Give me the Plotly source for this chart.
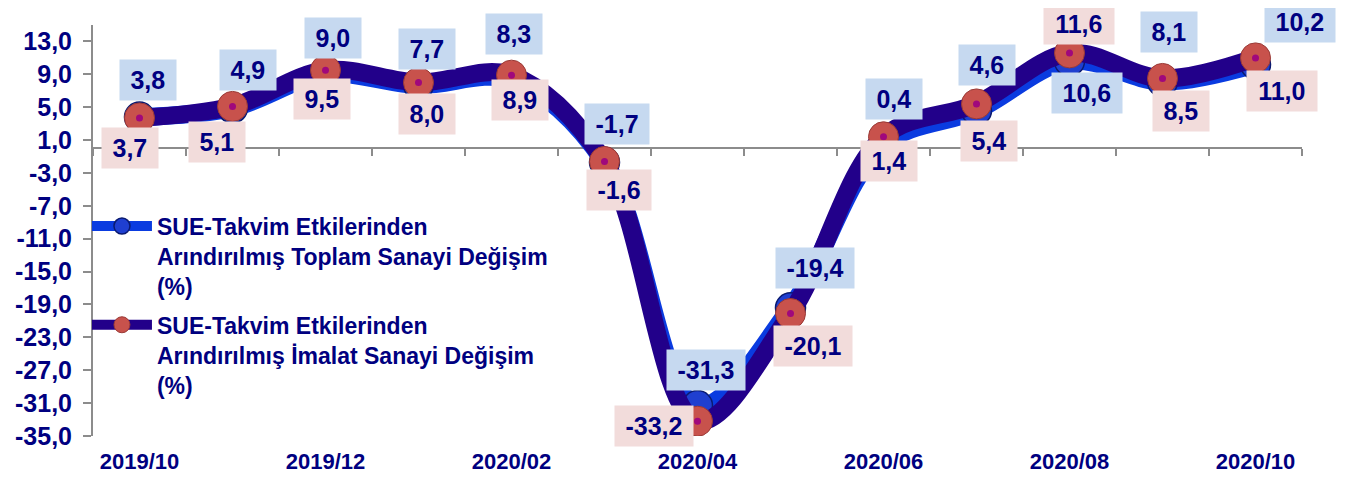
import plotly.graph_objects as go

MONTHS = ["2019/10", "2019/11", "2019/12", "2020/01", "2020/02", "2020/03", "2020/04",
          "2020/05", "2020/06", "2020/07", "2020/08", "2020/09", "2020/10"]
TOPLAM = [3.8, 4.9, 9.0, 7.7, 8.3, -1.7, -31.3, -19.4, 0.4, 4.6, 10.6, 8.1, 10.2]
IMALAT = [3.7, 5.1, 9.5, 8.0, 8.9, -1.6, -33.2, -20.1, 1.4, 5.4, 11.6, 8.5, 11.0]
YTICKS = [-35, -31, -27, -23, -19, -15, -11, -7, -3, 1, 5, 9, 13]

NAME_T = "SUE-Takvim Etkilerinden<br>Arındırılmış Toplam Sanayi Değişim<br>(%)"
NAME_I = "SUE-Takvim Etkilerinden<br>Arındırılmış İmalat Sanayi Değişim<br>(%)"

# label offsets in pixels (dx, dy up) - layout only
OFF_T = [(8, 37), (15, 38), (7, 36), (8, 36), (2, 46), (12, 38), (8, 36),
         (24, 40), (10, 46), (10, 45), (17, -32), (6, 50), (44, 42)]
OFF_I = [(-10, -30), (-16, -36), (-4, -29), (8, -31), (8, -25), (14, -29), (-44, -5),
         (22, -32), (5, -24), (12, -37), (9, 29), (18, -33), (26, -33)]

NAVY = "#000080"
FONT = "Liberation Sans"


def fmt(v):
    return f"{v:.1f}".replace(".", ",")


def box_w(s):
    w = {",": 0.278, "-": 0.333}
    return sum(w.get(c, 0.556) for c in s) * 25 + 19


fig = go.Figure()

fig.add_trace(go.Scatter(x=[], y=[], xaxis="x2", showlegend=False, hoverinfo="skip"))

fig.add_trace(go.Scatter(
    x=MONTHS, y=TOPLAM, name=NAME_T, mode="lines+markers",
    line=dict(color="#0a3be0", width=18, shape="spline", smoothing=1),
    marker=dict(size=30, color="#1f3fd0", line=dict(width=1.5, color="#0a1a70")),
    legendgroup="t",
))

fig.add_trace(go.Scatter(
    x=MONTHS, y=IMALAT, name=NAME_I, mode="lines+markers",
    line=dict(color="#22008a", width=18, shape="spline", smoothing=1),
    marker=dict(size=30, color="#c8524c", line=dict(width=1, color="#9a3a36")),
    legendgroup="i",
))
fig.add_trace(go.Scatter(
    x=MONTHS, y=IMALAT, mode="markers", showlegend=False, hoverinfo="skip",
    marker=dict(size=7, color="#a0087c"),
))

for vals, offs, bg in ((TOPLAM, OFF_T, "#c6d9f0"), (IMALAT, OFF_I, "#f2dcdb")):
    for m, v, (dx, dy) in zip(MONTHS, vals, offs):
        t = fmt(v)
        fig.add_annotation(
            x=m, y=v, xref="x", yref="y", text=t, showarrow=False,
            xshift=dx, yshift=dy, bgcolor=bg, width=box_w(t), height=38,
            font=dict(family=FONT, size=25, color=NAVY, weight="bold"),
        )

# page body has an 8px margin, so the figure is 16px smaller than the window
fig.update_layout(
    width=1330, height=467,
    margin=dict(l=85, r=36, t=17, b=39, autoexpand=False),
    paper_bgcolor="white", plot_bgcolor="white",
    showlegend=True,
    legend=dict(
        x=-0.005, y=0.563, xanchor="left", yanchor="top",
        font=dict(family=FONT, size=23, color=NAVY, weight="bold"),
        bgcolor="rgba(0,0,0,0)", itemwidth=60, tracegroupgap=6, valign="top",
    ),
    xaxis=dict(
        type="category", range=[-0.5, 12.5], tickvals=MONTHS[::2],
        showline=False, showgrid=False, zeroline=False, ticks="",
        tickfont=dict(family=FONT, size=22, color=NAVY, weight="bold"),
        ticklabelstandoff=10, automargin=False,
    ),
    xaxis2=dict(
        overlaying="x", anchor="free", position=0.7, range=[-0.5, 12.5],
        tickvals=[i - 0.5 for i in range(len(MONTHS) + 1)],
        showticklabels=False, ticks="outside", ticklen=7, tickwidth=2,
        tickcolor="#8c8c8c", showline=True, linecolor="#8c8c8c", linewidth=2,
        showgrid=False, zeroline=False, layer="below traces", automargin=False,
    ),
    yaxis=dict(
        range=[-35, 15], tickvals=YTICKS, ticktext=[fmt(v) for v in YTICKS],
        showline=True, linecolor="#8c8c8c", linewidth=2,
        ticks="outside", ticklen=8, tickwidth=2, tickcolor="#8c8c8c",
        showgrid=False, zeroline=False, ticklabelstandoff=6, automargin=False,
        tickfont=dict(family=FONT, size=25, color=NAVY, weight="bold"),
    ),
)

fig.write_html("out.html")
